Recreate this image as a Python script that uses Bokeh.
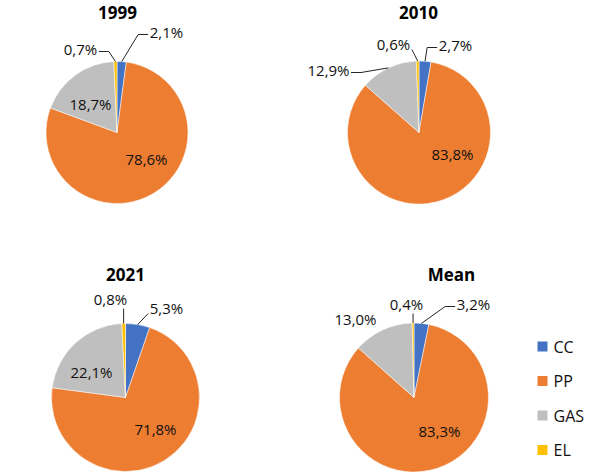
import math
from bokeh.plotting import figure
from bokeh.models import Range1d, ColumnDataSource
from bokeh.core.properties import value
from bokeh.embed import file_html
from bokeh.resources import INLINE

# ---------------- data ----------------
categories = ["CC", "PP", "GAS", "EL"]
titles = ["1999", "2010", "2021", "Mean"]
share_1999 = [2.1, 78.6, 18.7, 0.7]
share_2010 = [2.7, 83.8, 12.9, 0.6]
share_2021 = [5.3, 71.8, 22.1, 0.8]
share_mean = [3.2, 83.3, 13.0, 0.4]
series = [share_1999, share_2010, share_2021, share_mean]

# ---------------- style / layout ----------------
colors = ["#4472C4", "#ED7D31", "#BFBFBF", "#FFC000"]
W, H = 607, 476
FONT = value("Open Sans")

# pie centre (screen px, y down), radius, title position
pies = [
    dict(cx=116.5, cy=132, r=71, tx=117, ty=12),
    dict(cx=418.5, cy=132, r=71.5, tx=418, ty=12),
    dict(cx=125, cy=397, r=74, tx=125, ty=274),
    dict(cx=413.5, cy=397, r=74.5, tx=451, ty=274),
]
# label offsets relative to pie centre (screen px), per category
label_offsets = [
    [(49.5, -101), (29.5, 26), (-26.5, -29), (-36.5, -84)],
    [(36.5, -88), (33.5, 21), (-90.5, -63), (-25.5, -89)],
    [(41, -90), (30, 31), (-34, -26), (-15, -99)],
    [(59.5, -94), (25.5, 33), (-58.5, -79), (-7.5, -94)],
]
leaders = [
    [True, False, False, True],
    [True, False, True, True],
    [True, False, False, True],
    [True, False, False, True],
]
legend_x, legend_y0, legend_dy = 542, 346, 34.5


def Y(y):
    return H - y


def fmt(v):
    return f"{v:.1f}%".replace(".", ",")


def text_width(s):
    w = 0
    for ch in s:
        if ch.isdigit():
            w += 8.3
        elif ch == ",":
            w += 3.8
        elif ch == "%":
            w += 12.3
    return w


p = figure(width=W, height=H, output_backend="svg", toolbar_location=None,
           x_range=Range1d(0, W), y_range=Range1d(0, H), min_border=0)
p.axis.visible = False
p.grid.visible = False
p.outline_line_color = None
p.background_fill_color = "white"
p.border_fill_color = "white"

lx_all, ly_all, lt_all = [], [], []
lead_xs, lead_ys = [], []
tx, ty, tt = [], [], []

for k, (vals, pie) in enumerate(zip(series, pies)):
    total = sum(vals)
    cx, cy, r = pie["cx"], pie["cy"], pie["r"]
    cum = 0.0
    starts, ends = [], []
    for i, v in enumerate(vals):
        c0 = cum / total
        cum += v
        c1 = cum / total
        starts.append(math.pi / 2 - 2 * math.pi * c0)
        ends.append(math.pi / 2 - 2 * math.pi * c1)
        # labels
        ox, oy = label_offsets[k][i]
        lx, ly = cx + ox, cy + oy
        s = fmt(v)
        lx_all.append(lx)
        ly_all.append(Y(ly))
        lt_all.append(s)
        if leaders[k][i]:
            th = 2 * math.pi * (c0 + c1) / 2
            ex, ey = cx + r * math.sin(th), cy - r * math.cos(th)
            w = text_width(s)
            side = 1 if lx > ex else -1
            tx_end = lx - side * (w / 2 + 2)
            if lx - w / 2 - 2 <= ex <= lx + w / 2 + 2:
                pts = [(ex, ey), (ex, ly + 10)]
            elif abs(tx_end - ex) < 12:
                pts = [(ex, ey), (tx_end, ly + 6)]
            else:
                kx = tx_end - side * 10
                pts = [(ex, ey), (kx, ly + 3), (tx_end, ly + 3)]
            lead_xs.append([q[0] for q in pts])
            lead_ys.append([Y(q[1]) for q in pts])
    src = ColumnDataSource(dict(start=starts, end=ends, color=colors,
                                cat=categories))
    p.wedge(x=cx, y=Y(cy), radius=r, start_angle="start", end_angle="end",
            direction="clock", fill_color="color", line_color="white",
            line_width=0.5, source=src)
    tx.append(pie["tx"])
    ty.append(Y(pie["ty"]))
    tt.append(titles[k])

p.multi_line(xs=lead_xs, ys=lead_ys, line_color="#262626", line_width=1)
p.text(x=lx_all, y=ly_all, text=lt_all, text_font=FONT, text_font_size="15px",
       text_align="center", text_baseline="middle", text_color="#111111")
p.text(x=tx, y=ty, text=tt, text_font=FONT, text_font_size="17px",
       text_font_style="bold", text_align="center", text_baseline="middle",
       text_color="#000000")

# legend
ly_leg = [Y(legend_y0 + i * legend_dy) for i in range(len(categories))]
p.rect(x=[legend_x] * len(categories), y=ly_leg, width=10, height=10,
       fill_color=colors, line_color=None)
p.text(x=[legend_x + 11] * len(categories), y=ly_leg, text=categories,
       text_font=FONT, text_font_size="16px", text_align="left",
       text_baseline="middle", text_color="#111111")

open("out.html", "w").write(file_html(p, INLINE))
